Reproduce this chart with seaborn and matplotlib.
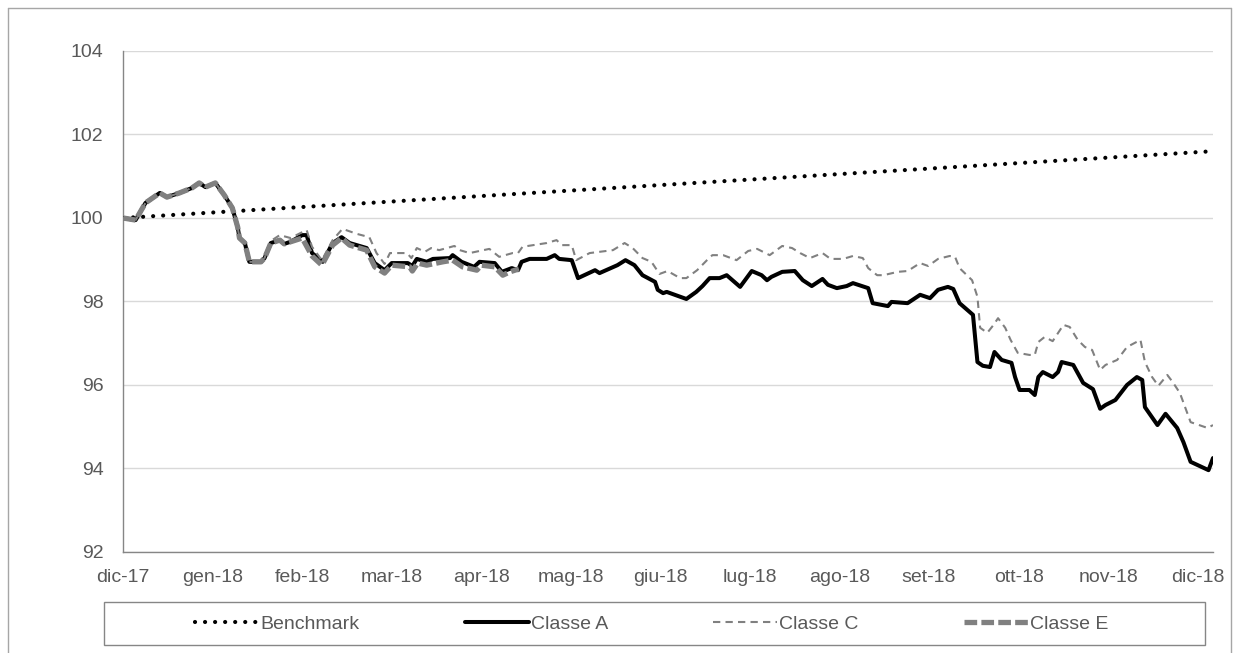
import numpy as np
import pandas as pd
import matplotlib
matplotlib.use("Agg")
import matplotlib.pyplot as plt
from matplotlib.lines import Line2D
from matplotlib.patches import Rectangle
import seaborn as sns

# asse x in mesi dal 29/12/2017 (0 = dic-17, 12 = dic-18)
mesi_label = ['dic-17', 'gen-18', 'feb-18', 'mar-18', 'apr-18', 'mag-18', 'giu-18',
              'lug-18', 'ago-18', 'set-18', 'ott-18', 'nov-18', 'dic-18']
y_ticks = [92, 94, 96, 98, 100, 102, 104]

bench_x = [0.0, 12.17]
bench_y = [100.0, 101.60]

a_x = [0, 0.14, 0.25, 0.41, 0.49, 0.63, 0.77, 0.85, 0.92, 1.03,
       1.13, 1.22, 1.28, 1.30, 1.36, 1.41, 1.54, 1.58, 1.65, 1.75,
       1.80, 1.87, 2.00, 2.05, 2.11, 2.23, 2.34, 2.44, 2.53, 2.72,
       2.81, 2.92, 3.00, 3.18, 3.23, 3.28, 3.39, 3.46, 3.65, 3.68,
       3.78, 3.92, 3.98, 4.15, 4.23, 4.34, 4.41, 4.45, 4.54, 4.73,
       4.82, 4.87, 5.01, 5.08, 5.27, 5.32, 5.52, 5.61, 5.71, 5.80,
       5.94, 5.97, 6.03, 6.07, 6.29, 6.40, 6.47, 6.55, 6.66, 6.74,
       6.89, 7.02, 7.13, 7.19, 7.24, 7.36, 7.50, 7.59, 7.69, 7.81,
       7.87, 7.97, 8.08, 8.15, 8.32, 8.37, 8.54, 8.58, 8.76, 8.90,
       9.01, 9.10, 9.21, 9.27, 9.34, 9.49, 9.54, 9.60, 9.68, 9.73,
       9.81, 9.92, 9.96, 10.01, 10.12, 10.18, 10.22, 10.27, 10.38, 10.44,
       10.48, 10.61, 10.72, 10.83, 10.91, 10.97, 11.08, 11.21, 11.32, 11.38,
       11.41, 11.55, 11.64, 11.77, 11.84, 11.92, 12.12, 12.17]
a_y = [100.00, 99.95, 100.36, 100.60, 100.50, 100.60, 100.72, 100.84, 100.74, 100.84,
       100.55, 100.24, 99.78, 99.52, 99.40, 98.95, 98.95, 99.04, 99.40, 99.47,
       99.38, 99.43, 99.59, 99.59, 99.16, 98.95, 99.40, 99.54, 99.40, 99.28,
       98.92, 98.75, 98.92, 98.92, 98.85, 99.02, 98.95, 99.02, 99.04, 99.11,
       98.95, 98.83, 98.95, 98.92, 98.71, 98.80, 98.75, 98.95, 99.02, 99.02,
       99.11, 99.02, 98.99, 98.56, 98.75, 98.68, 98.87, 98.99, 98.87, 98.63,
       98.47, 98.28, 98.20, 98.23, 98.06, 98.23, 98.37, 98.56, 98.56, 98.63,
       98.35, 98.73, 98.63, 98.51, 98.59, 98.71, 98.73, 98.51, 98.37, 98.54,
       98.40, 98.32, 98.37, 98.44, 98.32, 97.96, 97.89, 97.99, 97.96, 98.16,
       98.08, 98.28, 98.35, 98.30, 97.96, 97.68, 96.55, 96.46, 96.43, 96.79,
       96.60, 96.53, 96.19, 95.88, 95.88, 95.76, 96.19, 96.31, 96.19, 96.31,
       96.55, 96.48, 96.05, 95.90, 95.43, 95.52, 95.64, 96.00, 96.19, 96.12,
       95.47, 95.04, 95.31, 94.97, 94.63, 94.16, 93.96, 94.25]

# Classe C: uguale alla A fino a meta' gennaio
c_x = a_x[:18] + [
       1.65, 1.75, 1.87, 2.00, 2.05, 2.11, 2.22, 2.34, 2.45, 2.61,
       2.75, 2.83, 2.92, 2.98, 3.17, 3.22, 3.28, 3.37, 3.44, 3.53,
       3.70, 3.76, 3.87, 3.98, 4.09, 4.20, 4.35, 4.41, 4.46, 4.73,
       4.84, 4.90, 5.01, 5.06, 5.21, 5.47, 5.60, 5.69, 5.80, 5.90,
       5.99, 6.08, 6.22, 6.29, 6.41, 6.52, 6.58, 6.70, 6.85, 6.98,
       7.08, 7.22, 7.36, 7.47, 7.56, 7.67, 7.81, 7.90, 8.04, 8.15,
       8.26, 8.32, 8.42, 8.49, 8.65, 8.76, 8.90, 8.99, 9.10, 9.23,
       9.29, 9.34, 9.48, 9.54, 9.57, 9.65, 9.72, 9.77, 9.85, 9.91,
       9.99, 10.12, 10.18, 10.22, 10.29, 10.38, 10.50, 10.57, 10.66, 10.74,
       10.82, 10.91, 10.97, 11.10, 11.21, 11.36, 11.41, 11.49, 11.56, 11.66,
       11.72, 11.80, 11.92, 12.11, 12.17]
c_y = a_y[:18] + [
       99.45, 99.59, 99.52, 99.66, 99.71, 99.31, 98.99, 99.47, 99.74, 99.62,
       99.54, 99.16, 98.90, 99.16, 99.16, 99.04, 99.28, 99.19, 99.28, 99.23,
       99.33, 99.23, 99.16, 99.21, 99.26, 99.07, 99.16, 99.16, 99.31, 99.40,
       99.47, 99.35, 99.35, 98.99, 99.16, 99.23, 99.40, 99.28, 99.04, 98.95,
       98.66, 98.73, 98.56, 98.56, 98.75, 98.99, 99.11, 99.11, 98.99, 99.21,
       99.26, 99.11, 99.33, 99.28, 99.16, 99.04, 99.16, 99.02, 99.02, 99.09,
       99.04, 98.80, 98.63, 98.63, 98.71, 98.73, 98.92, 98.85, 99.02, 99.09,
       99.07, 98.80, 98.51, 98.11, 97.37, 97.25, 97.44, 97.60, 97.37, 97.08,
       96.77, 96.72, 96.72, 97.03, 97.15, 97.05, 97.44, 97.39, 97.08, 96.91,
       96.84, 96.36, 96.48, 96.60, 96.91, 97.08, 96.55, 96.19, 95.98, 96.24,
       96.07, 95.81, 95.11, 94.97, 95.04]

# Classe E: uguale alla A fino a fine gennaio, poi si interrompe a meta' aprile
e_x = a_x[:22] + [2.00, 2.11, 2.22, 2.34, 2.44, 2.53, 2.72, 2.81, 2.92, 3.00,
                  3.20, 3.23, 3.29, 3.39, 3.57, 3.68, 3.79, 3.95, 4.00, 4.15,
                  4.24, 4.32, 4.42]
e_y = a_y[:22] + [99.52, 99.09, 98.87, 99.35, 99.52, 99.35, 99.23, 98.83, 98.68, 98.87,
                  98.83, 98.73, 98.92, 98.87, 98.95, 98.99, 98.83, 98.75, 98.87, 98.83,
                  98.63, 98.71, 98.78]

sns.set_style("white")
plt.rcParams['font.family'] = ['Liberation Sans', 'DejaVu Sans']

fig = plt.figure(figsize=(12.38, 6.53), dpi=100)
ax = fig.add_axes([0.0994, 0.1547, 0.8804, 0.7672])

grigio = '#808080'
testo = '#595959'
# ordine di disegno come in Excel: Benchmark, A, C, E
sns.lineplot(x=bench_x, y=bench_y, ax=ax, color='black', lw=3.0, linestyle=(0, (0.01, 2.4)),
             dash_capstyle='round', label='Benchmark', sort=False, zorder=2)
sns.lineplot(x=a_x, y=a_y, ax=ax, color='black', lw=2.9, label='Classe A', sort=False, zorder=3)
sns.lineplot(x=c_x, y=c_y, ax=ax, color=grigio, lw=1.5, linestyle=(0, (3.5, 2.5)),
             label='Classe C', sort=False, zorder=4)
sns.lineplot(x=e_x, y=e_y, ax=ax, color=grigio, lw=3.8, linestyle=(0, (2.4, 0.8)),
             label='Classe E', sort=False, zorder=5)

ax.set_xlim(0, 12.17)
ax.set_ylim(92, 104)
ax.set_yticks(y_ticks)
ax.set_yticklabels([str(v) for v in y_ticks])
ax.set_xticks(range(len(mesi_label)))
ax.set_xticklabels(mesi_label)
ax.grid(axis='y', color='#d9d9d9', lw=1)
ax.set_axisbelow(True)
for s in ['top', 'right']:
    ax.spines[s].set_visible(False)
for s in ['left', 'bottom']:
    ax.spines[s].set_color('#868686')
    ax.spines[s].set_linewidth(1)
ax.tick_params(axis='both', direction='out', length=5, width=1, color='#868686',
               labelcolor=testo, labelsize=14)
ax.tick_params(axis='x', pad=7)
ax.tick_params(axis='y', pad=9)
ax.set_xlabel('')
ax.set_ylabel('')

handles, labels = ax.get_legend_handles_labels()
ax.legend(handles, labels, ncol=4, loc='center',
          bbox_to_anchor=(651.5 / 1238, 1 - 624 / 653), bbox_transform=fig.transFigure,
          frameon=False, fontsize=14, handlelength=3.3, handletextpad=0.1,
          columnspacing=5.4, borderpad=0.3, labelcolor=testo)

# riquadro della legenda
fig.add_artist(Rectangle((104 / 1238, 1 - 645 / 653), 1101 / 1238, 43 / 653,
                         transform=fig.transFigure, fill=False, edgecolor='#868686', lw=1))

# bordo esterno del grafico
bordo = dict(color='#a6a6a6', lw=1, transform=fig.transFigure)
fig.add_artist(Line2D([0.0065, 0.0065], [0, 0.988], **bordo))
fig.add_artist(Line2D([0.0065, 0.9945], [0.988, 0.988], **bordo))
fig.add_artist(Line2D([0.9945, 0.9945], [0, 0.988], **bordo))

fig.savefig('out.png', dpi=100)
